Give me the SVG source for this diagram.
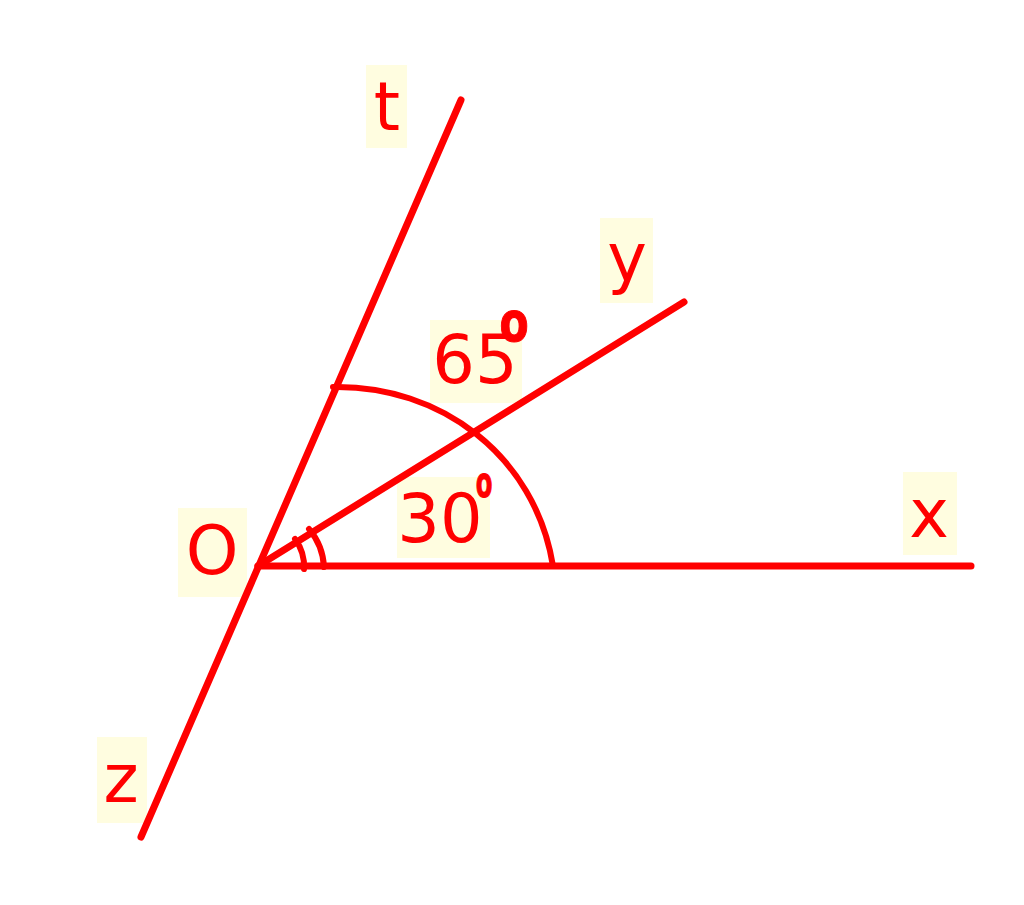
<svg xmlns="http://www.w3.org/2000/svg" width="1024" height="905" viewBox="0 0 1024 905">
<style>
.bg{fill:#fffde0}
.ln{stroke:#ff0000;stroke-width:7;stroke-linecap:round;fill:none}
.arc{stroke:#ff0000;stroke-width:6;stroke-linecap:round;fill:none}
.lb{font-family:"DejaVu Sans","Verdana",sans-serif;font-size:67px;fill:#ff0000;text-anchor:middle}
.deg{font-family:"DejaVu Sans","Verdana",sans-serif;font-weight:bold;fill:#ff0000;stroke:#ff0000;stroke-width:1;text-anchor:middle}
</style>
<rect width="1024" height="905" fill="#ffffff"/>
<g id="label-boxes">
<rect class="bg" x="366" y="65" width="41" height="83"/>
<rect class="bg" x="600" y="218" width="53" height="85"/>
<rect class="bg" x="903" y="472" width="54" height="83"/>
<rect class="bg" x="97" y="737" width="50" height="86"/>
<rect class="bg" x="178" y="508" width="69" height="89"/>
<rect class="bg" x="430" y="320" width="92" height="83"/>
<rect class="bg" x="397" y="477" width="93" height="81"/>
</g>
<g id="connectors">
<line class="ln" x1="461" y1="100" x2="141" y2="837"/>
<line class="ln" x1="258" y1="566" x2="971" y2="566"/>
<line class="ln" x1="258" y1="566" x2="684" y2="302"/>
<path class="arc" d="M333,387 C440,385 535,455 553,566"/>
<path class="arc" d="M295,539 A46,46 0 0 1 304,569"/>
<path class="arc" d="M309,529 A64,64 0 0 1 324,567"/>
</g>
<g id="label-t"><text class="lb" x="387" y="130">t</text></g>
<g id="label-y"><text class="lb" x="627" y="281">y</text></g>
<g id="label-x"><text class="lb" x="929" y="537">x</text></g>
<g id="label-z"><text class="lb" x="121" y="802">z</text></g>
<g id="label-O"><text class="lb" x="212" y="574">O</text></g>
<g id="label-65">
<text class="lb" x="475" y="383">65</text>
<text class="deg" font-size="50" transform="translate(514,341) scale(0.85,1.1)" x="0" y="0">o</text>
</g>
<g id="label-30">
<text class="lb" x="440" y="542">30</text>
<text class="deg" font-size="42" transform="translate(484,497) scale(0.58,1)" x="0" y="0">o</text>
</g>
</svg>
